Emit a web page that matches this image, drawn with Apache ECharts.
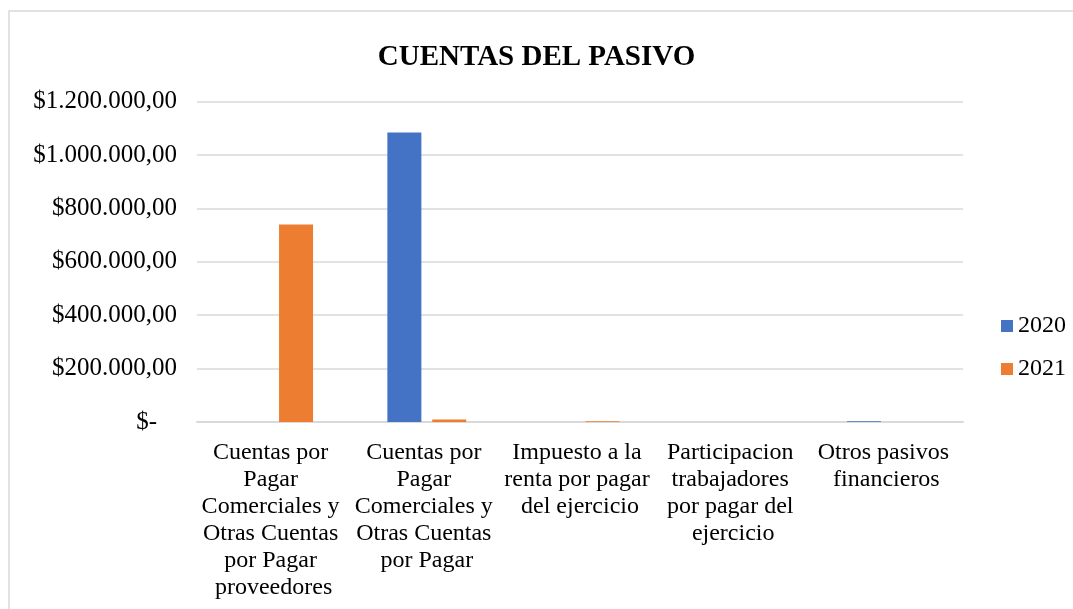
<!DOCTYPE html>
<html>
<head>
<meta charset="utf-8">
<script src="https://cdn.jsdelivr.net/npm/echarts@6/dist/echarts.min.js"></script>
<style>
html,body{margin:0;padding:0;background:#fff;}
#chart{width:1073px;height:609px;}
</style>
</head>
<body>
<div id="chart"></div>
<script>
const categories = [
  'Cuentas por Pagar Comerciales y Otras Cuentas por Pagar proveedores',
  'Cuentas por Pagar Comerciales y Otras Cuentas por Pagar',
  'Impuesto a la renta por pagar del ejercicio',
  'Participacion trabajadores por pagar del ejercicio',
  'Otros pasivos financieros'
];
const seriesNames = ['2020', '2021'];
const values2020 = [0, 1085000, 0, 0, 3000];
const values2021 = [740000, 9000, 3000, 0, 0];
const yMin = 0, yMax = 1200000, yStep = 200000;

const FONT = "'Liberation Serif', 'Times New Roman', serif";

function fmtMoney(v) {
  if (v === 0) return '{z|$-}';
  const s = Math.round(v).toString().replace(/\B(?=(\d{3})+(?!\d))/g, '.');
  return '$' + s + ',00';
}

const chart = echarts.init(document.getElementById('chart'), null, {renderer: 'canvas'});
chart.setOption({
  animation: false,
  backgroundColor: '#ffffff',
  graphic: [{
    type: 'rect',
    shape: {x: 9, y: 11, width: 1100, height: 700},
    style: {fill: 'none', stroke: '#d9d9d9', lineWidth: 1.5},
    silent: true
  }],
  title: {
    text: 'CUENTAS DEL PASIVO',
    left: 'center',
    top: 38,
    textStyle: {fontFamily: FONT, fontWeight: 'bold', fontSize: 29, color: '#000'}
  },
  legend: {
    orient: 'vertical',
    left: 996,
    top: 309,
    itemWidth: 12,
    itemHeight: 12,
    itemGap: 19,
    icon: 'rect',
    data: seriesNames,
    textStyle: {fontFamily: FONT, fontSize: 24, color: '#000'}
  },
  grid: {left: 197, right: 110, top: 101.7, bottom: 609 - 422},
  xAxis: {
    type: 'category',
    data: categories,
    axisLine: {lineStyle: {color: '#d9d9d9', width: 2}},
    axisTick: {show: false},
    axisLabel: {
      interval: 0,
      fontFamily: FONT,
      fontSize: 24,
      color: '#000',
      lineHeight: 27,
      margin: 17,
      width: 152,
      overflow: 'break'
    }
  },
  yAxis: {
    type: 'value',
    min: yMin,
    max: yMax,
    interval: yStep,
    axisLine: {show: false},
    axisTick: {show: false},
    splitLine: {lineStyle: {color: '#d9d9d9', width: 1.5}},
    axisLabel: {
      fontFamily: FONT,
      fontSize: 25,
      color: '#000',
      margin: 20,
      formatter: fmtMoney,
      rich: {z: {fontFamily: FONT, fontSize: 25, color: '#000', padding: [0, 20, 0, 0]}}
    }
  },
  series: [
    {name: seriesNames[0], type: 'bar', data: values2020, barWidth: 34, barGap: '32%', itemStyle: {color: '#4472C4'}},
    {name: seriesNames[1], type: 'bar', data: values2021, barWidth: 34, barGap: '32%', itemStyle: {color: '#ED7D31'}}
  ]
});
</script>
</body>
</html>
